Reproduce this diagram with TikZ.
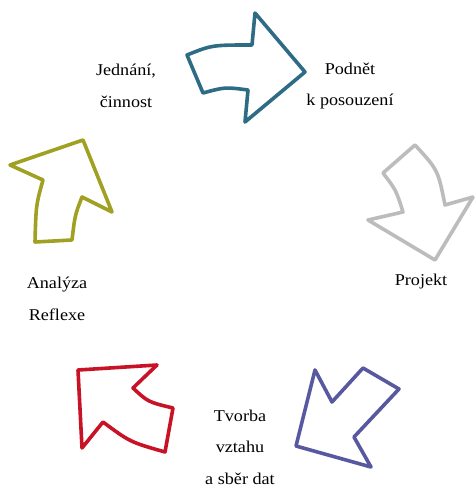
\documentclass[tikz,border=0pt]{standalone}
\usepackage{fontspec}
\setmainfont{Liberation Serif}
\definecolor{cteal}{RGB}{45,108,132}
\definecolor{cgrey}{RGB}{188,188,188}
\definecolor{cpurple}{RGB}{88,88,160}
\definecolor{cred}{RGB}{200,18,38}
\definecolor{colive}{RGB}{160,160,35}
\tikzset{
  arrowshape/.style={line width=3.6pt, line join=round},
  lbl/.style={align=center, inner sep=0pt, font=\fontsize{16.5}{31.5}\selectfont}
}
\begin{document}
\begin{tikzpicture}[x=1pt,y=-1pt]
\useasboundingbox (0,0) rectangle (475,487);
% teal arrow
\draw[arrowshape, cteal] (187,55) .. controls (212,45) .. (252,45) -- (255,13) -- (305,72) -- (245,122) -- (248,90) .. controls (225,87) .. (203,93) -- cycle;
% grey arrow
\draw[arrowshape, cgrey] (415,145) .. controls (438,170) .. (445,205) -- (473,197) -- (435,260) -- (368,220) -- (403,212) .. controls (396,190) .. (383,173) -- cycle;
% purple arrow
\draw[arrowshape, cpurple] (315,370) -- (332,402) -- (363,368) -- (399,389) -- (354,437) -- (371,467) -- (296,446) -- cycle;
% red arrow
\draw[arrowshape, cred] (78,370) -- (157,365) -- (133,388) .. controls (148,402) .. (173,408) -- (165,452) .. controls (130,442) .. (103,422) -- (82,448) -- cycle;
% olive arrow
\draw[arrowshape, colive] (83,140) -- (112,212) -- (82,197) .. controls (75,215) .. (72,240) -- (35,242) .. controls (36,205) .. (43,180) -- (10,165) -- cycle;
% labels
\node[lbl] (jed) at (126,86) {\scalebox{1.1}[1]{Jednání,}\\\scalebox{1.1}[1]{činnost}};
\node[lbl] (pod) at (350,86) {\scalebox{1.1}[1]{Podnět}\\\scalebox{1.1}[1]{k posouzení}};
\node[lbl] (proj) at (421,282) {\scalebox{1.1}[1]{Projekt}};
\node[lbl] (anal) at (57,299) {\scalebox{1.1}[1]{Analýza}\\\scalebox{1.1}[1]{Reflexe}};
\node[lbl] (tvor) at (240,447) {\scalebox{1.1}[1]{Tvorba}\\\scalebox{1.1}[1]{vztahu}\\\scalebox{1.1}[1]{a sběr dat}};
\end{tikzpicture}
\end{document}
